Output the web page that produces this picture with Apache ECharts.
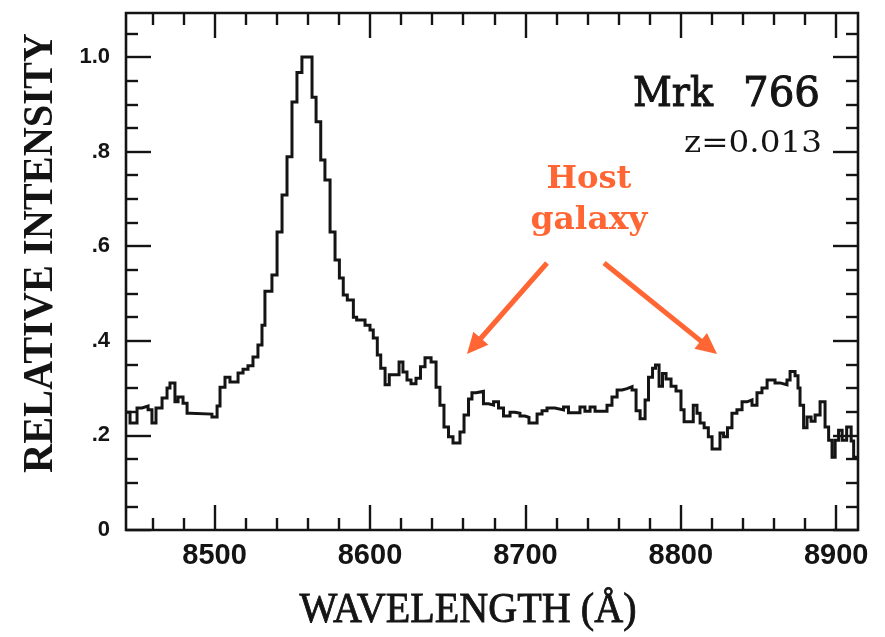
<!DOCTYPE html>
<html>
<head>
<meta charset="utf-8">
<title>Mrk 766 spectrum</title>
<script src="https://cdn.jsdelivr.net/npm/echarts@6/dist/echarts.min.js"></script>
<style>
  html, body { margin: 0; padding: 0; background: #ffffff; }
  #chart { width: 885px; height: 637px; }
</style>
</head>
<body>
<div id="chart"></div>
<script>
// Spectrum of Mrk 766: left edge of each wavelength bin (Å) and its relative intensity.
const binEdges = [
  8443.0, 8445.6, 8450.1, 8453.3, 8457.2, 8459.7, 8462.3, 8466.2, 8469.4, 8471.3,
  8474.5, 8476.5, 8479.7, 8482.3, 8484.2, 8498.3, 8501.6, 8503.5, 8506.7, 8509.9,
  8515.1, 8518.3, 8521.5, 8524.7, 8527.9, 8530.5, 8532.4, 8536.9, 8540.2, 8543.4,
  8546.6, 8549.8, 8553.0, 8556.2, 8562.7, 8565.3, 8568.3, 8571.0, 8574.3, 8577.5,
  8580.3, 8582.8, 8585.4, 8589.3, 8591.4, 8596.8, 8600.0, 8602.1, 8604.7, 8606.9,
  8609.7, 8612.4, 8618.7, 8621.2, 8623.8, 8626.4, 8629.6, 8632.5, 8635.4, 8639.3,
  8642.5, 8645.0, 8647.6, 8650.5, 8653.4, 8657.9, 8660.5, 8663.4, 8665.6, 8668.2,
  8673.0, 8676.3, 8679.5, 8682.7, 8685.9, 8690.1, 8693.3, 8696.5, 8699.7, 8702.3,
  8707.5, 8710.7, 8713.9, 8719.0, 8724.5, 8727.7, 8735.1, 8738.3, 8741.6, 8744.8,
  8752.5, 8755.7, 8759.0, 8762.2, 8765.4, 8768.6, 8771.2, 8773.8, 8777.0, 8779.2,
  8781.8, 8783.7, 8786.0, 8788.2, 8790.5, 8793.7, 8796.9, 8800.1, 8802.1, 8808.0,
  8810.4, 8812.4, 8815.0, 8817.7, 8820.1, 8825.2, 8827.5, 8830.0, 8832.9, 8836.1,
  8839.4, 8842.6, 8845.8, 8849.0, 8852.2, 8855.5, 8860.6, 8863.8, 8868.3, 8870.3,
  8873.5, 8875.4, 8876.7, 8879.0, 8881.2, 8883.8, 8886.4, 8889.6, 8892.8, 8895.1,
  8897.3, 8899.3, 8901.5, 8903.8, 8906.7, 8909.6, 8911.2
];
const intensity = [
  0.249, 0.226, 0.258, 0.262, 0.254, 0.226, 0.258, 0.279, 0.300, 0.311,
  0.271, 0.281, 0.268, 0.247, 0.245, 0.239, 0.262, 0.302, 0.323, 0.313,
  0.332, 0.340, 0.347, 0.366, 0.391, 0.433, 0.505, 0.539, 0.630, 0.708,
  0.789, 0.905, 0.967, 1.000, 0.915, 0.863, 0.782, 0.740, 0.630, 0.571,
  0.533, 0.497, 0.486, 0.450, 0.444, 0.433, 0.423, 0.406, 0.370, 0.342,
  0.307, 0.328, 0.355, 0.334, 0.317, 0.309, 0.321, 0.345, 0.364, 0.355,
  0.302, 0.264, 0.218, 0.197, 0.184, 0.207, 0.243, 0.277, 0.290, 0.293,
  0.267, 0.264, 0.271, 0.258, 0.241, 0.249, 0.247, 0.241, 0.238, 0.226,
  0.245, 0.252, 0.258, 0.254, 0.260, 0.248, 0.260, 0.251, 0.260, 0.251,
  0.264, 0.281, 0.296, 0.299, 0.303, 0.296, 0.252, 0.235, 0.275, 0.323,
  0.342, 0.349, 0.304, 0.331, 0.319, 0.304, 0.294, 0.254, 0.229, 0.264,
  0.247, 0.226, 0.216, 0.197, 0.171, 0.205, 0.197, 0.216, 0.247, 0.254,
  0.271, 0.275, 0.264, 0.290, 0.300, 0.317, 0.311, 0.307, 0.317, 0.335,
  0.326, 0.300, 0.264, 0.216, 0.239, 0.230, 0.243, 0.271, 0.218, 0.190,
  0.154, 0.190, 0.211, 0.190, 0.218, 0.188, 0.154
];
const spectrumEnd = 8914;

// Axis extents and tick marks
const wavelengthRange = [8443, 8914];
const intensityRange = [0, 1.093];
const xMajorTicks = [8500, 8600, 8700, 8800, 8900];
const xMinorTicks = [8460, 8480, 8520, 8540, 8560, 8580, 8620, 8640, 8660, 8680,
                     8720, 8740, 8760, 8780, 8820, 8840, 8860, 8880];
const yMajorTicks = [0, 0.2, 0.4, 0.6, 0.8, 1.0];
const yTickLabels = ['0', '.2', '.4', '.6', '.8', '1.0'];
const yMinorTicks = [0.05, 0.1, 0.15, 0.25, 0.3, 0.35, 0.45, 0.5, 0.55,
                     0.65, 0.7, 0.75, 0.85, 0.9, 0.95, 1.05];

// Annotation anchors in data coordinates: [wavelength, intensity]
const arrowLeft = { from: [8713.9, 0.5645], to: [8662.4, 0.372] };
const arrowRight = { from: [8750.6, 0.5645], to: [8823.3, 0.372] };

const INK = '#141414';
const ORANGE = '#ff6633';
const MAJOR_LEN = 25;
const MINOR_LEN = 12;

const chart = echarts.init(document.getElementById('chart'), null, { renderer: 'canvas' });

const seriesData = binEdges.map((x, i) => [x, intensity[i]]);
seriesData.push([spectrumEnd, intensity[intensity.length - 1]]);

function xAxisDef(position, ticks, len, label) {
  return {
    type: 'value', position,
    min: wavelengthRange[0], max: wavelengthRange[1],
    axisLine: { show: false, onZero: false },
    axisTick: { show: true, inside: true, length: len, customValues: ticks,
                lineStyle: { color: INK, width: 2.4 } },
    axisLabel: label ? {
      show: true, customValues: ticks, margin: 11,
      fontFamily: 'Liberation Sans', fontWeight: 'bold', fontSize: 29, color: INK,
      formatter: v => String(Math.round(v))
    } : { show: false },
    splitLine: { show: false }
  };
}
function yAxisDef(position, ticks, len, label) {
  return {
    type: 'value', position,
    min: intensityRange[0], max: intensityRange[1],
    axisLine: { show: false, onZero: false },
    axisTick: { show: true, inside: true, length: len, customValues: ticks,
                lineStyle: { color: INK, width: 2.4 } },
    axisLabel: label ? {
      show: true, customValues: ticks, margin: 16,
      fontFamily: 'Liberation Sans', fontWeight: 'bold', fontSize: 22, color: INK,
      formatter: v => {
        const k = yMajorTicks.findIndex(t => Math.abs(t - v) < 1e-6);
        return k >= 0 ? yTickLabels[k] : '';
      }
    } : { show: false },
    splitLine: { show: false }
  };
}

chart.setOption({
  animation: false,
  backgroundColor: '#ffffff',
  grid: {
    left: 126, right: 27, top: 13, bottom: 107,
    show: true, borderColor: INK, borderWidth: 2.6, backgroundColor: 'transparent'
  },
  xAxis: [
    xAxisDef('bottom', xMajorTicks, MAJOR_LEN, true),
    xAxisDef('bottom', xMinorTicks, MINOR_LEN, false),
    xAxisDef('top', xMajorTicks, MAJOR_LEN, false),
    xAxisDef('top', xMinorTicks, MINOR_LEN, false)
  ],
  yAxis: [
    yAxisDef('left', yMajorTicks, MAJOR_LEN, true),
    yAxisDef('left', yMinorTicks, MINOR_LEN, false),
    yAxisDef('right', yMajorTicks, MAJOR_LEN, false),
    yAxisDef('right', yMinorTicks, MINOR_LEN, false)
  ],
  series: [{
    type: 'line',
    xAxisIndex: 0, yAxisIndex: 0,
    step: 'end',
    showSymbol: false,
    symbol: 'none',
    data: seriesData,
    lineStyle: { color: INK, width: 3, join: 'miter' },
    z: 3
  }]
});

// Text helpers: fit a string to a target width by horizontal scaling
const measureCtx = document.createElement('canvas').getContext('2d');
function textWidth(text, font) {
  measureCtx.font = font;
  return measureCtx.measureText(text).width;
}
function fittedText(text, font, width, x, y, opts) {
  const o = opts || {};
  const style = {
    text, font, fill: o.fill || INK,
    align: o.align || 'center', verticalAlign: 'middle'
  };
  if (o.weight) {
    style.stroke = o.fill || INK;
    style.lineWidth = o.weight;
  }
  return {
    type: 'text', x, y, z: 100,
    rotation: o.rotation || 0,
    scaleX: width / textWidth(text, font),
    scaleY: o.scaleY || 1,
    style
  };
}

function arrowGraphics(spec) {
  const p0 = chart.convertToPixel({ xAxisIndex: 0, yAxisIndex: 0 }, spec.from);
  const p1 = chart.convertToPixel({ xAxisIndex: 0, yAxisIndex: 0 }, spec.to);
  const dx = p1[0] - p0[0], dy = p1[1] - p0[1];
  const len = Math.hypot(dx, dy);
  const ux = dx / len, uy = dy / len;
  const headLen = 21, headHalf = 10;
  const bx = p1[0] - ux * headLen, by = p1[1] - uy * headLen;
  return [
    {
      type: 'line', z: 100,
      shape: { x1: p0[0], y1: p0[1], x2: bx + ux * 2, y2: by + uy * 2 },
      style: { stroke: ORANGE, lineWidth: 5 }
    },
    {
      type: 'polygon', z: 100,
      shape: { points: [
        [p1[0], p1[1]],
        [bx - uy * headHalf, by + ux * headHalf],
        [bx + uy * headHalf, by - ux * headHalf]
      ] },
      style: { fill: ORANGE }
    }
  ];
}

const serifTitle = 'bold 40px "Liberation Serif"';
const serifTitleX = '40px "Liberation Serif"';
const labelSerif = '41px "DejaVu Serif"';
const zSerif = '30px "DejaVu Serif"';
const hostFont = 'bold 31px "DejaVu Serif"';

chart.setOption({
  graphic: [
    fittedText('RELATIVE INTENSITY', serifTitle, 440, 41, 253,
               { rotation: Math.PI / 2, scaleY: 1.05 }),
    fittedText('WAVELENGTH (Å)', serifTitleX, 337, 468, 611, { scaleY: 1.08, weight: 0.8 }),
    fittedText('Mrk', labelSerif, 80, 713, 95, { align: 'right', weight: 1 }),
    fittedText('766', labelSerif, 77, 820, 95, { align: 'right', weight: 1 }),
    fittedText('z=0.013', zSerif, 138, 822, 144, { align: 'right' }),
    fittedText('Host', hostFont, 85, 589, 180, { fill: ORANGE }),
    fittedText('galaxy', hostFont, 117, 589, 221, { fill: ORANGE }),
    ...arrowGraphics(arrowLeft),
    ...arrowGraphics(arrowRight)
  ]
});
</script>
</body>
</html>
